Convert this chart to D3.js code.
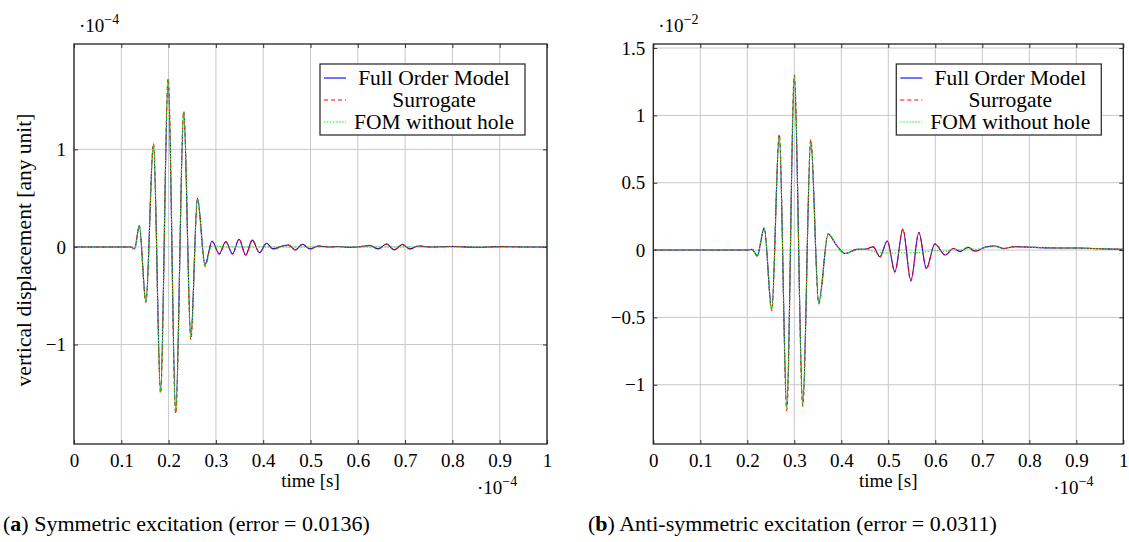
<!DOCTYPE html>
<html>
<head>
<meta charset="utf-8">
<script src="https://cdn.jsdelivr.net/npm/d3@7/dist/d3.min.js"></script>
<style>
    body { margin: 0; background: #fff; }
    svg { display: block; font-family: "Liberation Serif", "DejaVu Serif", serif; }
    svg text { font-family: "Liberation Serif", "DejaVu Serif", serif; }
</style>
</head>
<body>
<svg id="fig" width="1129" height="542"></svg>
<script>
// ---- data (time in 1e-4 s) ----
var xTicks = [0, 0.1, 0.2, 0.3, 0.4, 0.5, 0.6, 0.7, 0.8, 0.9, 1];
var xTickLabels = ["0", "0.1", "0.2", "0.3", "0.4", "0.5", "0.6", "0.7", "0.8", "0.9", "1"];
var seriesNames = ["Full Order Model", "Surrogate", "FOM without hole"];

// (a) symmetric excitation, displacement in 1e-4
var yTicksA = [-1, 0, 1];
var yTickLabelsA = ["\u22121", "0", "1"];
var tA = [0, 0.12, 0.128, 0.138, 0.152, 0.168, 0.183, 0.199, 0.215, 0.232,
    0.247, 0.261, 0.277, 0.292, 0.307, 0.321, 0.335, 0.349, 0.363, 0.377,
    0.392, 0.407, 0.421, 0.437, 0.453, 0.468, 0.483, 0.499, 0.516, 0.54,
    0.56, 0.58, 0.6, 0.626, 0.643, 0.661, 0.677, 0.694, 0.71, 0.728,
    0.75, 0.8, 0.85, 0.9, 0.95, 1];
var fomA = [0, 0, -0.02, 0.215, -0.56, 1.05, -1.47, 1.71, -1.68, 1.37,
    -0.92, 0.5, -0.18, 0.06, -0.07, 0.055, -0.07, 0.078, -0.082, 0.07,
    -0.058, 0.037, -0.02, 0.003, 0.02, -0.03, 0.027, -0.02, 0.01, 0,
    0.005, -0.005, 0, 0.015, -0.02, 0.03, -0.03, 0.025, -0.02, 0.01,
    0, 0.005, -0.003, 0.003, 0, 0];
var surA = [0, 0, -0.02, 0.22, -0.57, 1.06, -1.5, 1.73, -1.71, 1.39,
    -0.95, 0.49, -0.2, 0.055, -0.075, 0.05, -0.075, 0.08, -0.085, 0.072,
    -0.06, 0.035, -0.022, 0.003, 0.022, -0.03, 0.028, -0.022, 0.01, 0,
    0.004, -0.004, 0, 0.016, -0.022, 0.03, -0.032, 0.026, -0.022, 0.012,
    0, 0.004, -0.003, 0.003, 0, 0];
var noholeA = [0, 0, -0.02, 0.215, -0.56, 1.05, -1.48, 1.72, -1.69, 1.38,
    -0.93, 0.48, -0.19, 0.01, 0.005, 0, 0, 0, 0, 0,
    0, 0, 0, 0, 0, 0, 0, 0, 0, 0,
    0, 0, 0, 0, 0, 0, 0, 0, 0, 0,
    0, 0, 0, 0, 0, 0];

// (b) anti-symmetric excitation, displacement in 1e-2
var yTicksB = [-1, -0.5, 0, 0.5, 1, 1.5];
var yTickLabelsB = ["\u22121", "\u22120.5", "0", "0.5", "1", "1.5"];
var tB = [0, 0.2, 0.21, 0.221, 0.236, 0.252, 0.268, 0.284, 0.3, 0.318,
    0.335, 0.352, 0.372, 0.389, 0.408, 0.433, 0.454, 0.468, 0.482, 0.498,
    0.514, 0.531, 0.548, 0.565, 0.581, 0.599, 0.621, 0.638, 0.653, 0.67,
    0.684, 0.709, 0.727, 0.745, 0.77, 0.81, 0.86, 0.908, 0.95, 1];
var fomB = [0, 0, 0.005, -0.042, 0.161, -0.44, 0.85, -1.17, 1.28, -1.14,
    0.81, -0.39, 0.119, 0.04, -0.025, 0.005, 0.008, 0.025, -0.05, 0.067,
    -0.16, 0.154, -0.225, 0.13, -0.136, 0.045, -0.037, 0.012, -0.01, 0.02,
    -0.008, 0.025, 0.03, 0.012, 0.025, 0.02, 0.015, 0.015, 0.01, 0.005];
var surB = [0, 0, 0.005, -0.045, 0.165, -0.45, 0.86, -1.19, 1.3, -1.16,
    0.82, -0.4, 0.12, 0.04, -0.025, 0.005, 0.008, 0.024, -0.052, 0.068,
    -0.165, 0.156, -0.23, 0.132, -0.14, 0.046, -0.038, 0.012, -0.012, 0.022,
    -0.01, 0.024, 0.03, 0.01, 0.026, 0.02, 0.016, 0.014, 0.01, 0.005];
var noholeB = [0, 0, 0.005, -0.042, 0.16, -0.44, 0.85, -1.17, 1.29, -1.15,
    0.81, -0.39, 0.118, 0.04, -0.025, 0.005, 0.005, -0.01, -0.02, -0.02,
    -0.022, -0.02, -0.02, -0.018, -0.012, -0.005, -0.01, 0.005, 0, 0.015,
    0.005, 0.02, 0.025, 0.015, 0.02, 0.02, 0.015, 0.015, 0.01, 0.005];

var colors = ["#0000ff", "#ff0000", "#00ff00"];
var dashes = [null, "4,3", "1.5,1.5"];

var svg = d3.select("#fig");

function panel(o) {
    let g = svg.append("g");

    let x = d3.scaleLinear().domain([0, 1]).range([o.left, o.right]);
    let y = d3.scaleLinear().domain(o.yDomain).range([o.bottom, o.top]);

    // grid
    g.selectAll(".gx").data(xTicks).enter().append("line")
        .attr("x1", d => x(d)).attr("x2", d => x(d))
        .attr("y1", o.top).attr("y2", o.bottom)
        .attr("stroke", "#c8c8c8").attr("stroke-width", 1);
    g.selectAll(".gy").data(o.yTicks).enter().append("line")
        .attr("x1", o.left).attr("x2", o.right)
        .attr("y1", d => y(d)).attr("y2", d => y(d))
        .attr("stroke", "#c8c8c8").attr("stroke-width", 1);

    // axes, ticks pointing inward (bottom and top / left and right)
    let xb = d3.axisBottom(x).tickValues(xTicks).tickFormat((d, i) => xTickLabels[i])
        .tickSizeInner(-4).tickSizeOuter(0).tickPadding(10);
    let xt = d3.axisTop(x).tickValues(xTicks).tickFormat("").tickSizeInner(-4).tickSizeOuter(0);
    let yl = d3.axisLeft(y).tickValues(o.yTicks).tickFormat((d, i) => o.yTickLabels[i])
        .tickSizeInner(-4).tickSizeOuter(0).tickPadding(8);
    let yr = d3.axisRight(y).tickValues(o.yTicks).tickFormat("").tickSizeInner(-4).tickSizeOuter(0);

    g.append("g").attr("class", "ax").attr("transform", "translate(0," + o.bottom + ")").call(xb);
    g.append("g").attr("class", "ax").attr("transform", "translate(0," + o.top + ")").call(xt);
    g.append("g").attr("class", "ax").attr("transform", "translate(" + o.left + ",0)").call(yl);
    g.append("g").attr("class", "ax").attr("transform", "translate(" + o.right + ",0)").call(yr);
    g.selectAll(".ax").attr("font-family", null).attr("font-size", null);
    g.selectAll(".domain").remove();
    g.selectAll(".tick line").attr("stroke", "#333");
    g.selectAll(".tick text").attr("fill", "#000").style("font-size", "19px");

    // curves
    let line = d3.line()
        .x(d => x(d[0]))
        .y(d => y(d[1]))
        .curve(d3.curveMonotoneX);

    o.series.forEach(function (vals, k) {
        let pts = o.t.map((t, i) => [t, vals[i]]);
        g.append("path")
            .attr("d", line(pts))
            .attr("fill", "none")
            .attr("stroke", colors[k])
            .attr("stroke-width", 1.1)
            .attr("stroke-dasharray", dashes[k]);
    });

    // frame
    g.append("rect")
        .attr("x", o.left).attr("y", o.top)
        .attr("width", o.right - o.left).attr("height", o.bottom - o.top)
        .attr("fill", "none").attr("stroke", "#222").attr("stroke-width", 1.3);

    // legend
    let lw = 205, lh = 71;
    let lx = o.right - 22 - lw, ly = o.top + 20;
    let leg = g.append("g").attr("transform", "translate(" + lx + "," + ly + ")");
    leg.append("rect").attr("width", lw).attr("height", lh)
        .attr("fill", "#fff").attr("stroke", "#333").attr("stroke-width", 1.3);
    seriesNames.forEach(function (name, k) {
        let ry = 14 + k * 22;
        leg.append("line")
            .attr("x1", 4).attr("x2", 26).attr("y1", ry).attr("y2", ry)
            .attr("stroke", colors[k]).attr("stroke-width", 1.1)
            .attr("stroke-dasharray", dashes[k]);
        leg.append("text")
            .attr("x", 114).attr("y", ry + 7)
            .attr("text-anchor", "middle")
            .style("font-size", "21.5px")
            .text(name);
    });

    // exponent labels
    let ey = g.append("text").attr("x", o.left + 5).attr("y", 32).style("font-size", "19px");
    ey.append("tspan").text("\u00b710");
    ey.append("tspan").attr("dy", -8).style("font-size", "14px").text(o.yExp);

    let ex = g.append("text").attr("x", o.right - 70).attr("y", 494).style("font-size", "19px");
    ex.append("tspan").text("\u00b710");
    ex.append("tspan").attr("dy", -8).style("font-size", "14px").text("\u22124");

    // x label
    g.append("text")
        .attr("x", (o.left + o.right) / 2).attr("y", 487)
        .attr("text-anchor", "middle")
        .style("font-size", "19px")
        .text("time [s]");

    // caption
    let cap = g.append("text").attr("x", o.capX).attr("y", 531).style("font-size", "22px");
    cap.append("tspan").text("(");
    cap.append("tspan").style("font-weight", "bold").text(o.capLetter);
    cap.append("tspan").text(") " + o.capText);
}

panel({
    left: 74, right: 547, top: 44, bottom: 444,
    yDomain: [-2.02, 2.08], yTicks: yTicksA, yTickLabels: yTickLabelsA,
    t: tA, series: [fomA, surA, noholeA],
    yExp: "\u22124",
    capX: 3, capLetter: "a", capText: "Symmetric excitation (error = 0.0136)"
});

panel({
    left: 653.3, right: 1123.3, top: 44, bottom: 444,
    yDomain: [-1.44, 1.53], yTicks: yTicksB, yTickLabels: yTickLabelsB,
    t: tB, series: [fomB, surB, noholeB],
    yExp: "\u22122",
    capX: 588, capLetter: "b", capText: "Anti-symmetric excitation (error = 0.0311)"
});

// y label of the left panel
svg.append("text")
    .attr("transform", "translate(31,250) rotate(-90)")
    .attr("text-anchor", "middle")
    .style("font-size", "21.5px")
    .text("vertical displacement [any unit]");
</script>
</body>
</html>
